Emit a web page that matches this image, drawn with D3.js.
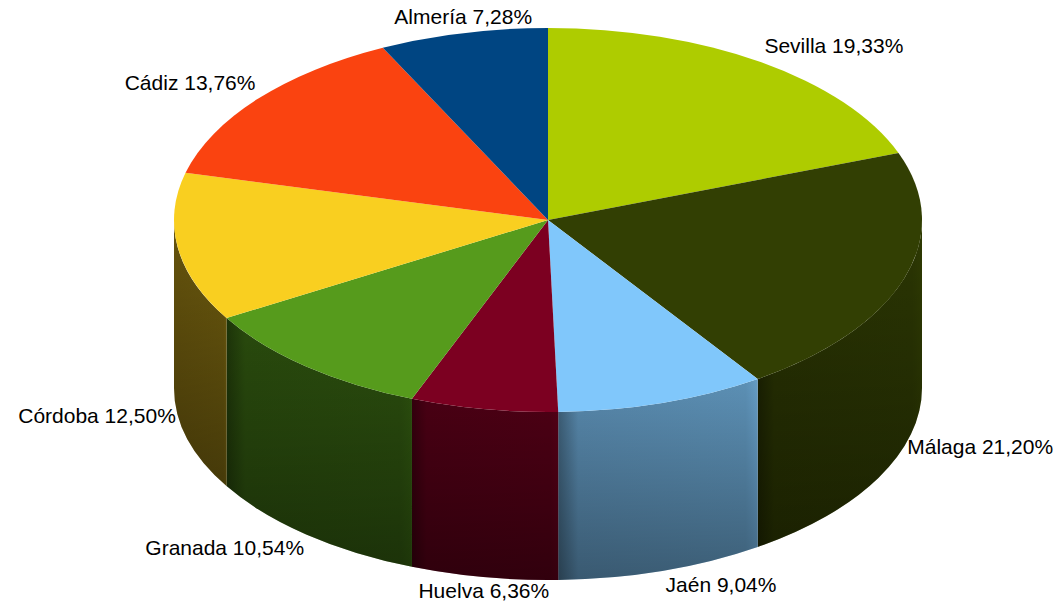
<!DOCTYPE html>
<html>
<head>
<meta charset="utf-8">
<script src="https://cdn.jsdelivr.net/npm/d3@7"></script>
<style>
	body { margin: 0; background: #fff; }
	text { font-family: "Liberation Sans", Arial, sans-serif; font-size: 21px; fill: #000; }
</style>
</head>
<body>
<div id="chart"></div>
<script>
//Data (clockwise from 12 o'clock)
var provinces = ["Sevilla", "Málaga", "Jaén", "Huelva", "Granada", "Córdoba", "Cádiz", "Almería"];
var shares = [19.33, 21.20, 9.04, 6.36, 10.54, 12.50, 13.76, 7.28];
var sliceColors = ["#aecc00", "#323f03", "#80c7fb", "#7c0021", "#569b1c", "#f9cf20", "#fa4310", "#004582"];

//SVG setup
var width = 1059;
var height = 611;
var cx = 548, cy = 220;
var rx = 374, ry = 192;
var depth = 168;

var svg = d3.select("#chart")
	.append("svg")
	.attr("width", width)
	.attr("height", height);

var defs = svg.append("defs");

var esLocale = d3.formatLocale({ decimal: ",", thousands: ".", grouping: [3], currency: ["", " €"] });
var fmt = esLocale.format(".2f");

var pie = d3.pie().sort(null).value(function(d) { return d.value; });
var slices = pie(provinces.map(function(p, i) {
	return { name: p, value: shares[i], color: sliceColors[i] };
}));

//point on the ellipse for angle a (clockwise from top)
var pt = function(a, dy) {
	return [cx + rx * Math.sin(a), cy - ry * Math.cos(a) + (dy || 0)];
};

var topPath = function(a0, a1) {
	var p0 = pt(a0), p1 = pt(a1);
	var large = (a1 - a0) > Math.PI ? 1 : 0;
	return "M" + cx + "," + cy + "L" + p0 + "A" + rx + "," + ry + " 0 " + large + " 1 " + p1 + "Z";
};

var sidePath = function(a0, a1) {
	var p0 = pt(a0), p1 = pt(a1), q0 = pt(a0, depth), q1 = pt(a1, depth);
	return "M" + p0 + "A" + rx + "," + ry + " 0 0 1 " + p1 +
		"L" + q1 + "A" + rx + "," + ry + " 0 0 0 " + q0 + "Z";
};

var shade = function(c, k) {
	var col = d3.rgb(c);
	return d3.rgb(Math.min(255, col.r * k), Math.min(255, col.g * k), Math.min(255, col.b * k)) + "";
};

//vertical darkening for the walls
var vg = defs.append("linearGradient")
	.attr("id", "vshade")
	.attr("x1", 0).attr("y1", 0).attr("x2", 0).attr("y2", 1);
vg.append("stop").attr("offset", 0).attr("stop-color", "#000").attr("stop-opacity", 0);
vg.append("stop").attr("offset", 1).attr("stop-color", "#000").attr("stop-opacity", 0.35);

//Walls (only the front half is visible)
var walls = svg.append("g").attr("class", "walls");
slices.forEach(function(d, i) {
	var s0 = Math.max(d.startAngle, Math.PI / 2);
	var s1 = Math.min(d.endAngle, 3 * Math.PI / 2);
	if (s0 >= s1) return;
	var mid = (s0 + s1) / 2;
	var f = 0.62 + 0.22 * Math.sin(mid);
	var endIsEdge = d.endAngle <= 3 * Math.PI / 2;
	var g = defs.append("linearGradient")
		.attr("id", "wall" + i)
		.attr("gradientUnits", "userSpaceOnUse")
		.attr("x1", pt(s0)[0]).attr("y1", 0)
		.attr("x2", pt(s1)[0]).attr("y2", 0);
	g.append("stop").attr("offset", 0).attr("stop-color", shade(d.data.color, f * 1.15));
	g.append("stop").attr("offset", 0.06).attr("stop-color", shade(d.data.color, f * 1.05));
	g.append("stop").attr("offset", 0.9).attr("stop-color", shade(d.data.color, f * 1.0));
	g.append("stop").attr("offset", 1).attr("stop-color", shade(d.data.color, endIsEdge ? f * 0.7 : f));
	walls.append("path")
		.attr("d", sidePath(s0, s1))
		.attr("fill", "url(#wall" + i + ")");
	walls.append("path")
		.attr("d", sidePath(s0, s1))
		.attr("fill", "url(#vshade)");
});

//Top faces
svg.append("g")
	.attr("class", "tops")
	.selectAll("path")
	.data(slices)
	.enter()
	.append("path")
	.attr("d", function(d) { return topPath(d.startAngle, d.endAngle); })
	.attr("fill", function(d) { return d.data.color; });

//Labels
svg.append("g")
	.attr("class", "labels")
	.selectAll("text")
	.data(slices)
	.enter()
	.append("text")
	.each(function(d) {
		var a = (d.startAngle + d.endAngle) / 2;
		var s = Math.sin(a), c = Math.cos(a);
		var p = pt(a, c < 0 ? depth : 0);
		var anchor = s > 0.2 ? "start" : (s < -0.4 ? "end" : "middle");
		var x = p[0] + (anchor === "start" ? 3 : (anchor === "end" ? -2 : 0));
		var y;
		if (c > 0.5) y = p[1] - 9;
		else if (c < -0.5) y = p[1] + 21;
		else y = p[1] + 7.5;
		d3.select(this)
			.attr("x", x)
			.attr("y", y)
			.attr("text-anchor", anchor)
			.text(d.data.name + " " + fmt(d.data.value) + "%");
	});
</script>
</body>
</html>
